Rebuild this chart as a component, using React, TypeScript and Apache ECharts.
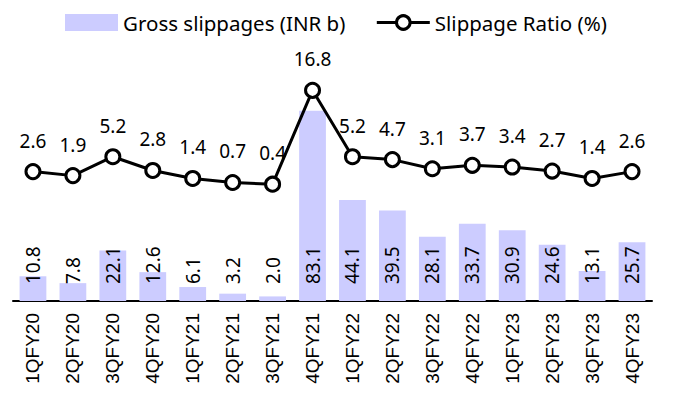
import React, { useEffect, useRef } from "react";
import * as echarts from "echarts";

const categories = ["1QFY20","2QFY20","3QFY20","4QFY20","1QFY21","2QFY21","3QFY21","4QFY21","1QFY22","2QFY22","3QFY22","4QFY22","1QFY23","2QFY23","3QFY23","4QFY23"];
const grossSlippages = [10.8,7.8,22.1,12.6,6.1,3.2,2.0,83.1,44.1,39.5,28.1,33.7,30.9,24.6,13.1,25.7];
const slippageRatio = [2.6,1.9,5.2,2.8,1.4,0.7,0.4,16.8,5.2,4.7,3.1,3.7,3.4,2.7,1.4,2.6];

const FONT = "'Noto Sans', sans-serif";

export default function App() {
  const ref = useRef<HTMLDivElement>(null);
  useEffect(() => {
    if (!ref.current) return;
    const chart = echarts.init(ref.current, undefined, { renderer: "svg" });
    chart.setOption({
      animation: false,
      legend: {
        left: 60,
        top: 7,
        itemWidth: 53,
        itemHeight: 17,
        itemGap: 30,
        textStyle: { fontFamily: FONT, fontSize: 20.5, color: "#000" },
        data: [
          { name: "Gross slippages (INR b)", icon: "rect" },
          {
            name: "Slippage Ratio (%)",
            lineStyle: { width: 3, color: "#000" },
            itemStyle: { color: "#fff", borderColor: "#000", borderWidth: 3 },
          },
        ],
      },
      grid: { left: 13, right: 22, top: 72, bottom: 102, containLabel: false },
      xAxis: {
        type: "category",
        data: categories,
        axisLine: { lineStyle: { color: "#000", width: 2 } },
        axisTick: { show: false },
        axisLabel: {
          rotate: 90,
          fontFamily: "'Liberation Sans', Arial, sans-serif",
          fontSize: 19,
          color: "#000",
          margin: 12,
          interval: 0,
        },
      },
      yAxis: [
        { type: "value", min: 0, max: 100, show: false, splitLine: { show: false } },
        { type: "value", min: -20, max: 20, show: false, splitLine: { show: false } },
      ],
      series: [
        {
          name: "Gross slippages (INR b)",
          type: "bar",
          data: grossSlippages,
          yAxisIndex: 0,
          barWidth: "67%",
          itemStyle: { color: "#CCCCFF" },
          label: {
            show: true,
            position: "insideBottom",
            rotate: 90,
            align: "left",
            verticalAlign: "middle",
            distance: 17,
            fontFamily: FONT,
            fontSize: 19,
            color: "#000",
            formatter: (p: any) => p.value.toFixed(1),
          },
        },
        {
          name: "Slippage Ratio (%)",
          type: "line",
          data: slippageRatio,
          yAxisIndex: 1,
          symbol: "circle",
          symbolSize: 14,
          lineStyle: { color: "#000", width: 3 },
          itemStyle: { color: "#fff", borderColor: "#000", borderWidth: 3 },
          z: 5,
          label: {
            show: true,
            position: "top",
            distance: 13,
            fontFamily: FONT,
            fontSize: 19,
            color: "#000",
            formatter: (p: any) => p.value.toFixed(1),
          },
        },
      ],
    });
    return () => chart.dispose();
  }, []);
  return <div ref={ref} style={{ width: 674, height: 403, position: "absolute", left: 0, top: 0 }} />;
}
